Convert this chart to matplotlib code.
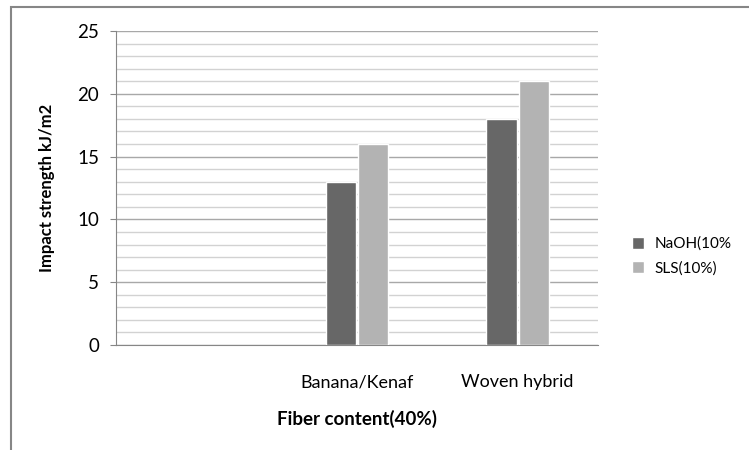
import numpy as np
import matplotlib
matplotlib.use("Agg")
from matplotlib import pyplot as plt
from matplotlib.patches import Rectangle

# Impact strength by fibre content, two surface treatments
categories = ["", "Banana/Kenaf", "Woven hybrid"]
naoh = [np.nan, 13, 18]
sls = [np.nan, 16, 21]
series_names = ["NaOH(10%", "SLS(10%)"]

plt.rcParams['font.family'] = ['Lato', 'DejaVu Sans']

fig = plt.figure(figsize=(7.49, 4.5), dpi=100)
ax = fig.add_axes([116 / 749, 1 - 345 / 450, 482 / 749, 314 / 450])

x = np.arange(len(categories))
w = 0.19
dark = "#676767"
light = "#b3b3b3"
b1 = ax.bar(x - w / 2 - 0.006, naoh, w, color=dark, edgecolor="white", linewidth=1.0, zorder=3)
b2 = ax.bar(x + w / 2 + 0.006, sls, w, color=light, edgecolor="white", linewidth=1.0, zorder=3)

ax.set_xlim(-0.5, 2.5)
ax.set_ylim(0, 25)
ax.set_yticks(range(0, 26, 5))
ax.set_yticks(range(0, 26, 1), minor=True)
ax.grid(axis="y", which="major", color="#a8a8a8", linewidth=1.0, zorder=0)
ax.grid(axis="y", which="minor", color="#d2d2d2", linewidth=1.0, zorder=0)
ax.set_axisbelow(True)

ax.set_xticks(x)
ax.set_xticklabels(categories, fontsize=13)
ax.tick_params(axis="x", length=0, pad=21)
ax.tick_params(axis="y", which="major", length=4, color="#868686", labelsize=13.5, pad=8)
ax.tick_params(axis="y", which="minor", length=0)

for side in ["top", "right"]:
    ax.spines[side].set_visible(False)
for side in ["left", "bottom"]:
    ax.spines[side].set_color("#868686")

ax.set_ylabel("Impact strength kJ/m2", fontsize=12, fontweight="bold", labelpad=16)
ax.set_xlabel("Fiber content(40%)", fontsize=13.5, fontweight="bold", labelpad=14)

leg = fig.legend([b1, b2], series_names, loc="upper left",
                 bbox_to_anchor=(618 / 749, 1 - 223 / 450), frameon=False,
                 fontsize=11, handlelength=0.8, handleheight=0.8,
                 handletextpad=0.7, labelspacing=0.65)

# outer chart frame
fig.patches.append(Rectangle((11 / 749, -0.1), 1.1, 1 - 7 / 450 + 0.1,
                             transform=fig.transFigure, fill=False,
                             edgecolor="#868686", linewidth=1.5))

fig.savefig("out.png", dpi=100)
